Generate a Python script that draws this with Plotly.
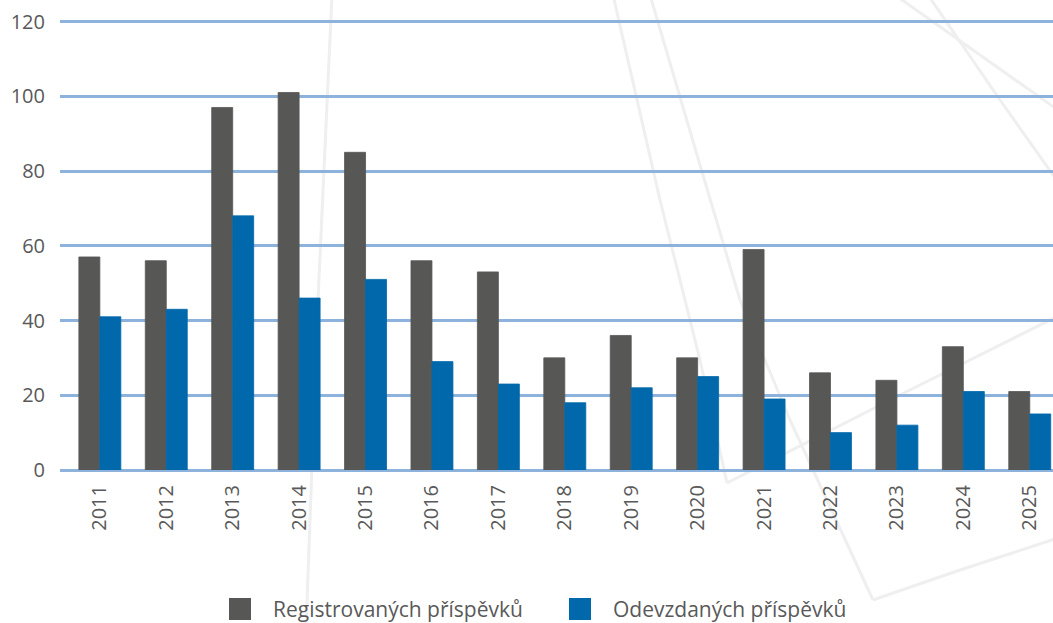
import plotly.graph_objects as go

years = ["2011", "2012", "2013", "2014", "2015", "2016", "2017", "2018",
         "2019", "2020", "2021", "2022", "2023", "2024", "2025"]
registered = [57, 56, 97, 101, 85, 56, 53, 30, 36, 30, 59, 26, 24, 33, 21]
submitted = [41, 43, 68, 46, 51, 29, 23, 18, 22, 25, 19, 10, 12, 21, 15]
y_ticks = [0, 20, 40, 60, 80, 100, 120]
series_names = ["Registrovaných příspěvků", "Odevzdaných příspěvků"]
series_colors = ["#575756", "#0068AB"]

FONT = "Open Sans, Liberation Sans, sans-serif"
TEXT = "#595959"
W, H = 1053, 623
L, R, T, B = 60, 0, 20, 153
PW, PH = W - L - R, H - T - B


def px(x, y):
    """pixel position -> paper coords of the plot area"""
    return (x - L) / PW, (H - B - y) / PH


fig = go.Figure()
for name, vals, col in zip(series_names, [registered, submitted], series_colors):
    fig.add_trace(go.Bar(x=years, y=vals, name=name, showlegend=False,
                         marker=dict(color=col, line=dict(width=0.8, color=col))))

shapes = []
# faint decorative background strokes
deco = [
    [(332, -5), (318, 300), (306, 630)],
    [(613, -5), (660, 200), (700, 360), (727, 483)],
    [(727, 483), (900, 395), (1058, 316)],
    [(650, -5), (700, 165), (740, 300), (790, 420), (873, 600)],
    [(873, 600), (960, 570), (1058, 538)],
    [(895, -5), (980, 55), (1058, 110)],
    [(928, -5), (1000, 100), (1058, 182)],
]
for pts in deco:
    for (x0, y0), (x1, y1) in zip(pts[:-1], pts[1:]):
        a, b = px(x0, y0)
        c, d = px(x1, y1)
        shapes.append(dict(type="line", xref="paper", yref="paper", x0=a, y0=b,
                           x1=c, y1=d, line=dict(color="#EFEFEF", width=3),
                           layer="below"))

# custom legend (large square swatches)
legend_sw = [(229, 251), (569, 591)]
annotations = []
for (sx0, sx1), name, col in zip(legend_sw, series_names, series_colors):
    a, b = px(sx0, 598)
    c, d = px(sx1, 620)
    shapes.append(dict(type="rect", xref="paper", yref="paper", x0=a, y0=b,
                       x1=c, y1=d, fillcolor=col, line=dict(width=0)))
    tx, ty = px(sx1 + 20, 609)
    annotations.append(dict(text=name, xref="paper", yref="paper", x=tx, y=ty,
                            xanchor="left", yanchor="middle", showarrow=False,
                            font=dict(size=21, color=TEXT, family=FONT)))

fig.update_layout(
    width=W, height=H,
    margin=dict(l=L, r=R, t=T, b=B, autoexpand=False),
    paper_bgcolor="white", plot_bgcolor="rgba(0,0,0,0)",
    barmode="group", bargap=0.368, bargroupgap=0,
    font=dict(family=FONT, color=TEXT, size=20),
    showlegend=False,
    shapes=shapes, annotations=annotations,
    xaxis=dict(type="category", tickangle=-90, range=[-0.6, 14.35],
               showgrid=False, showline=False, ticks="", ticklabelstandoff=10,
               automargin=False, tickfont=dict(size=20, color=TEXT)),
    yaxis=dict(range=[0, 120.4], tickvals=y_ticks, showgrid=True,
               gridcolor="#8DB3DD", gridwidth=2.5, zeroline=True,
               zerolinecolor="#8DB3DD", zerolinewidth=2.5, showline=False,
               ticks="", ticklabelstandoff=14, automargin=False,
               tickfont=dict(size=20, color=TEXT)),
)

fig.write_html("out.html",
               config={"displayModeBar": False},
               post_script="document.body.style.margin='0';"
                           "document.body.style.overflow='hidden';")
